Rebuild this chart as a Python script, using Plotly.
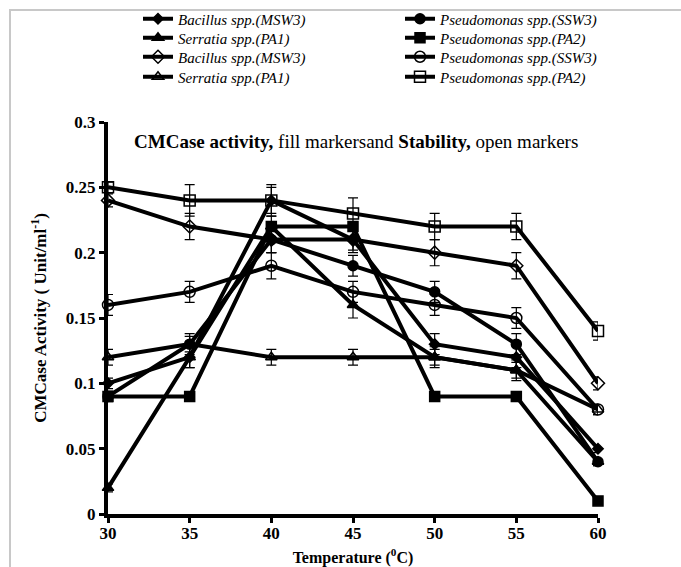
import plotly.graph_objects as go

temps = [30, 35, 40, 45, 50, 55, 60]

# CMCase activity (filled markers)
bac_act = [0.10, 0.12, 0.24, 0.21, 0.13, 0.12, 0.05]
ssw3_act = [0.09, 0.13, 0.21, 0.19, 0.17, 0.13, 0.04]
ser_act = [0.02, 0.12, 0.22, 0.16, 0.12, 0.11, 0.04]
pa2_act = [0.09, 0.09, 0.22, 0.22, 0.09, 0.09, 0.01]

# Stability (open markers)
bac_stab = [0.24, 0.22, 0.21, 0.21, 0.20, 0.19, 0.10]
ssw3_stab = [0.16, 0.17, 0.19, 0.17, 0.16, 0.15, 0.08]
ser_stab = [0.12, 0.13, 0.12, 0.12, 0.12, 0.11, 0.08]
pa2_stab = [0.25, 0.24, 0.24, 0.23, 0.22, 0.22, 0.14]

# error bars
bac_act_err = [0.004, 0.008, 0.01, 0.008, 0.008, 0.008, 0.003]
ssw3_act_err = [0.004, 0.008, 0.01, 0.008, 0.008, 0.008, 0.003]
ser_act_err = [0.003, 0.008, 0.008, 0.01, 0.008, 0.008, 0.003]
pa2_act_err = [0.003, 0.003, 0.003, 0.003, 0.003, 0.003, 0.002]
bac_stab_err = [0.005, 0.01, 0.01, 0.01, 0.01, 0.01, 0.005]
ssw3_stab_err = [0.008, 0.008, 0.01, 0.008, 0.008, 0.008, 0.004]
ser_stab_err = [0.006, 0.006, 0.006, 0.006, 0.006, 0.006, 0.004]
pa2_stab_err = [0.004, 0.012, 0.012, 0.012, 0.01, 0.01, 0.007]

names = ["Bacillus spp.(MSW3)", "Pseudomonas spp.(SSW3)",
         "Serratia spp.(PA1)", "Pseudomonas spp.(PA2)"]

# (name, values, errors, symbol, size, legend column, legend row)
series = [
    (names[0], bac_act, bac_act_err, "diamond", 8, 0, 0),
    (names[1], ssw3_act, ssw3_act_err, "circle", 10, 1, 0),
    (names[2], ser_act, ser_act_err, "triangle-up", 10, 0, 1),
    (names[3], pa2_act, pa2_act_err, "square", 10, 1, 1),
    (names[0], bac_stab, bac_stab_err, "diamond-open", 10, 0, 2),
    (names[1], ssw3_stab, ssw3_stab_err, "circle-open", 11, 1, 2),
    (names[2], ser_stab, ser_stab_err, "triangle-up-open", 10, 0, 3),
    (names[3], pa2_stab, pa2_stab_err, "square-open", 11, 1, 3),
]

serif = "Liberation Serif"
L, R, T, B = 108, 83, 122, 53
W, H = 681, 567
pw, ph = W - L - R, H - T - B

def px_x(x):
    return (x - L) / pw

def px_y(y):
    return (H - B - y) / ph

col_x = [138, 400]
row_y = [19, 38, 57, 77]

fig = go.Figure()
legends = {}
for i, (name, vals, err, sym, size, col, row) in enumerate(series):
    key = "legend" if i == 0 else "legend%d" % (i + 1)
    fig.add_trace(go.Scatter(
        x=temps, y=vals, name="<i>" + name + "</i>", mode="lines+markers",
        line=dict(color="black", width=4),
        marker=dict(symbol=sym, size=size, color="black",
                    line=dict(color="black", width=1.5)),
        error_y=dict(type="data", array=err, visible=True, color="black",
                     thickness=1.2, width=5),
        cliponaxis=False, legend=key,
    ))
    legends[key] = dict(
        font=dict(family=serif, size=15, color="black"),
        bgcolor="rgba(0,0,0,0)", borderwidth=0,
        xanchor="left", yanchor="middle", xref="paper", yref="paper",
        x=px_x(col_x[col]), y=px_y(row_y[row]),
    )

fig.update_layout(
    width=W, height=H,
    margin=dict(l=L, r=R, t=T, b=B, autoexpand=False),
    paper_bgcolor="white", plot_bgcolor="white",
    font=dict(family=serif, color="black"),
    showlegend=True,
    xaxis=dict(
        range=[30, 60], tickmode="array", tickvals=temps,
        ticktext=["<b>%d</b>" % t for t in temps],
        showgrid=False, zeroline=False, showline=True, linecolor="black",
        linewidth=4, ticks="outside", ticklen=5, tickwidth=3, tickcolor="black",
        tickfont=dict(family=serif, size=17, color="black"), automargin=False,
        ticklabelstandoff=-4,
        title=dict(text="<b>Temperature (<sup>0</sup>C)</b>",
                   font=dict(family=serif, size=16, color="black"), standoff=14),
    ),
    yaxis=dict(
        range=[0, 0.3], tickmode="array",
        tickvals=[0, 0.05, 0.1, 0.15, 0.2, 0.25, 0.3],
        ticktext=["<b>0</b>", "<b>0.05</b>", "<b>0.1</b>", "<b>0.15</b>",
                  "<b>0.2</b>", "<b>0.25</b>", "<b>0.3</b>"],
        showgrid=False, zeroline=False, showline=True, linecolor="black",
        linewidth=4, ticks="outside", ticklen=5, tickwidth=3, tickcolor="black",
        tickfont=dict(family=serif, size=17, color="black"), automargin=False,
        title=dict(text="<b>CMCase Activity ( Unit/ml<sup>-1</sup>)</b>",
                   font=dict(family=serif, size=17, color="black"), standoff=16),
    ),
    annotations=[dict(
        text="<b>CMCase activity,</b> fill markersand <b>Stability,</b> open markers",
        x=px_x(356), y=px_y(141), xref="paper", yref="paper",
        showarrow=False, font=dict(family=serif, size=19, color="black"),
        xanchor="center", yanchor="middle",
    )],
    shapes=[dict(
        type="rect", xref="paper", yref="paper",
        x0=px_x(10), x1=px_x(700), y0=px_y(600), y1=px_y(10),
        line=dict(color="#c8c8c8", width=2), fillcolor="rgba(0,0,0,0)",
        layer="below",
    )],
)
fig.update_layout(**legends)

fig.write_html("out.html")
